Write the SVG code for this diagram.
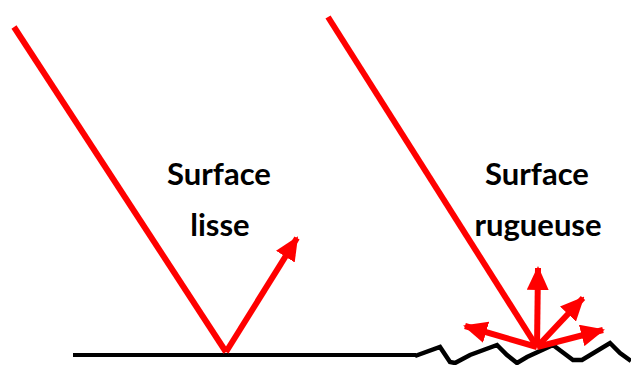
<svg xmlns="http://www.w3.org/2000/svg" width="631" height="365" viewBox="0 0 631 365">
<style>
.ray{stroke:#ff0000;stroke-width:6;fill:none}
.lbl{font-family:Lato,"Liberation Sans",sans-serif;font-weight:bold;font-size:31px;fill:#000;text-anchor:middle}
</style>
<defs>
<marker id="ah" viewBox="0 0 12 11" refX="11" refY="5.5" markerWidth="4" markerHeight="3.67" orient="auto" markerUnits="strokeWidth">
<path d="M0,0 L12,5.5 L0,11 Z" fill="#ff0000"/>
</marker>
</defs>
<g id="surface-lisse">
<line x1="73" y1="355" x2="416" y2="355" stroke="#000" stroke-width="4"/>
</g>
<g id="surface-rugueuse">
<polyline points="415,356 440,347 450,362 455,363 470,355 497,345 507,355 517,363 527,357 553,345 573,360 582,360 610,343 620,353 631,361" fill="none" stroke="#000" stroke-width="4.5" stroke-linejoin="miter"/>
</g>
<g id="connectors">
<line class="ray" x1="14" y1="27" x2="226" y2="352"/>
<line class="ray" x1="226" y1="352" x2="297" y2="238" marker-end="url(#ah)"/>
<line class="ray" x1="328" y1="17" x2="537" y2="347"/>
<line class="ray" x1="537" y1="347" x2="538" y2="268" marker-end="url(#ah)"/>
<line class="ray" x1="537" y1="347" x2="583" y2="298" marker-end="url(#ah)"/>
<line class="ray" x1="537" y1="347" x2="603" y2="330" marker-end="url(#ah)"/>
<line class="ray" x1="537" y1="347" x2="465" y2="326" marker-end="url(#ah)"/>
</g>
<g id="label-lisse">
<text class="lbl" x="219" y="185">Surface</text>
<text class="lbl" x="220" y="236">lisse</text>
</g>
<g id="label-rugueuse">
<text class="lbl" x="537" y="185">Surface</text>
<text class="lbl" x="538" y="236">rugueuse</text>
</g>
</svg>
